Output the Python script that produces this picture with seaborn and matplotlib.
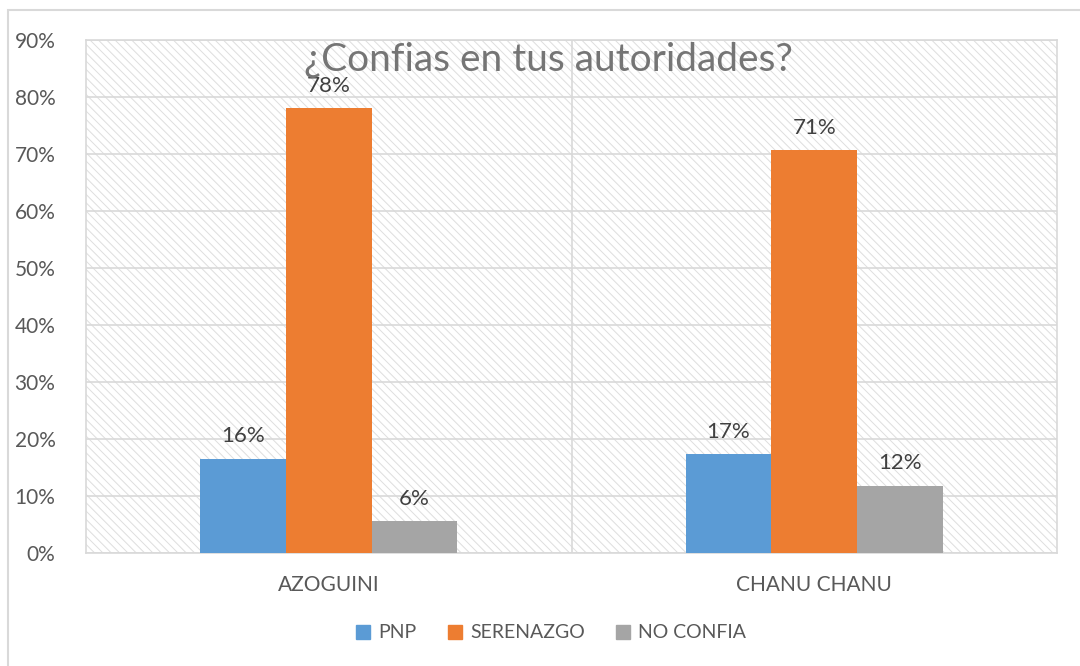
import pandas as pd
import matplotlib.pyplot as plt
import matplotlib.patches as mpatches
import seaborn as sns

# Data
zones = ['AZOGUINI', 'CHANU CHANU']
series = ['PNP', 'SERENAZGO', 'NO CONFIA']
pnp = [0.165, 0.173]
serenazgo = [0.78, 0.707]
no_confia = [0.056, 0.118]
colors = ['#5B9BD5', '#ED7D31', '#A5A5A5']

df = pd.DataFrame({
    'zona': zones * 3,
    'serie': [s for s in series for _ in zones],
    'valor': pnp + serenazgo + no_confia,
})

sns.set_theme(style='white')
plt.rcParams['font.family'] = ['Lato', 'DejaVu Sans']
plt.rcParams['hatch.linewidth'] = 0.7

fig = plt.figure(figsize=(10.8, 6.66), dpi=100)
ax = fig.add_axes([86 / 1080, 1 - 553 / 666, (1057 - 86) / 1080, (553 - 40) / 666])

# hatched plot area background
bg = mpatches.Rectangle((0, 0), 1, 1, transform=ax.transAxes, facecolor='white',
                        edgecolor='#DEDEDE', linewidth=0, hatch='\\' * 4, zorder=0)
ax.add_patch(bg)

sns.barplot(data=df, x='zona', y='valor', hue='serie', hue_order=series,
            palette=colors, width=0.53, linewidth=0, saturation=1, ax=ax, zorder=3)

ax.set_ylim(0, 0.9)
ax.set_xlim(-0.5, 1.5)
ax.set_yticks([i / 10 for i in range(10)])
ax.set_yticklabels([f'{i * 10}%' for i in range(10)])
ax.yaxis.grid(True, color='#D9D9D9', linewidth=1.2, zorder=1)
ax.set_axisbelow(True)
ax.axvline(0.5, color='#D9D9D9', linewidth=1.2, zorder=1)
for sp in ax.spines.values():
    sp.set_color('#D9D9D9')
    sp.set_linewidth(1.2)
ax.tick_params(axis='y', labelsize=15, labelcolor='#595959', pad=22, length=0)
ax.tick_params(axis='x', labelsize=15, labelcolor='#595959', pad=16, length=0)
ax.set_xlabel('')
ax.set_ylabel('')

for cont in ax.containers:
    ax.bar_label(cont, labels=[f'{v * 100:.0f}%' for v in cont.datavalues],
                 padding=9, fontsize=16, color='#404040')

ax.get_legend().remove()
handles = [mpatches.Patch(color=c, label=s) for c, s in zip(colors, series)]
fig.legend(handles=handles, loc='center', bbox_to_anchor=(551 / 1080, 1 - 633 / 666),
           ncol=3, frameon=False, fontsize=14, labelcolor='#595959',
           handlelength=0.75, handleheight=0.75, handletextpad=0.4, columnspacing=1.6)

fig.text(548 / 1080, 1 - 60 / 666, '¿Confias en tus autoridades?', ha='center', va='center',
         fontsize=28, color='#757575', zorder=10)

# chart border
fig.patches.append(mpatches.Rectangle((8 / 1080, -0.1), 1.2, 1 - 10 / 666 + 0.1,
                                      transform=fig.transFigure, fill=False,
                                      edgecolor='#D9D9D9', linewidth=1.5))

fig.savefig('out.png', dpi=100)
